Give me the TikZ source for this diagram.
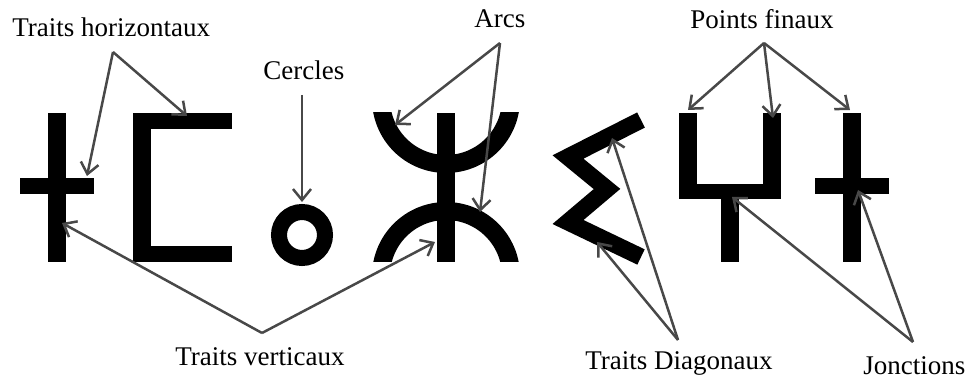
\documentclass[tikz,border=0pt]{standalone}
\usepackage{fontspec}
\setmainfont{Liberation Serif}
\usetikzlibrary{arrows.meta}
\definecolor{grisFleche}{RGB}{72,72,72}

\newcommand{\coordEtiquettes}{
\node[etiquette] (horiz) at (12,37) {Traits horizontaux};
\node[etiquette] (cercles) at (263,80) {Cercles};
\node[etiquette] (arcs) at (474,28) {Arcs};
\node[etiquette] (finaux) at (690,29) {Points finaux};
\node[etiquette] (vert) at (175,365) {Traits verticaux};
\node[etiquette] (diag) at (585,370) {Traits Diagonaux};
\node[etiquette] (jonc) at (863,374) {Jonctions};
}
\newcommand{\coordFleches}{
\coordinate (H0) at (113,52);
\coordinate (H1) at (87,176);
\coordinate (H2) at (187,116);
\coordinate (C0) at (302,95);
\coordinate (C1) at (302,202);
\coordinate (A0) at (500,43);
\coordinate (A1) at (395,125);
\coordinate (A2) at (480,212);
\coordinate (P0) at (764,43);
\coordinate (P1) at (688,110);
\coordinate (P2) at (773,118);
\coordinate (P3) at (850,110);
\coordinate (V0) at (262,333);
\coordinate (V1) at (62,223);
\coordinate (V2) at (435,242);
\coordinate (D0) at (678,340);
\coordinate (D1) at (612,138);
\coordinate (D2) at (597,242);
\coordinate (J0) at (913,342);
\coordinate (J1) at (732,197);
\coordinate (J2) at (858,190);
}
\newcommand{\glyphes}{
% croix
\fill[trait] (48,113) rectangle (66,262);
\fill[trait] (20,178) rectangle (94,194);
% crochet
\fill[trait] (133,113) rectangle (151,262);
\fill[trait] (133,113) rectangle (232,129);
\fill[trait] (133,246) rectangle (232,262);
% cercle
\draw[black,line width=8pt] (302,235) circle[radius=23];
% arcs
\fill[trait] (437,113) rectangle (455,262);
\begin{scope}
\clip (360,113) rectangle (535,262);
\draw[arc] (446,99) circle[radius=65];
\draw[arc] (446,276) circle[radius=65];
\end{scope}
% zigzag
\draw[black,line width=8.5pt,line join=miter] (641,120)--(568,157)--(607,189)--(568,222)--(641,257);
% fourche
\fill[trait] (679,113) rectangle (697,199);
\fill[trait] (763,113) rectangle (781,199);
\fill[trait] (679,184) rectangle (781,199);
\fill[trait] (721,199) rectangle (739,262);
% croix droite
\fill[trait] (843,113) rectangle (861,262);
\fill[trait] (815,178) rectangle (889,194);
}
\tikzset{
trait/.style={black},
arc/.style={black,line width=9pt},
etiquette/.style={anchor=base west,inner sep=0pt,font=\fontsize{13.5}{16}\selectfont},
fleche/.style={grisFleche,line width=1.25pt,-{Straight Barb[length=5.5pt,width=9pt,line width=1.25pt]}}
}

\begin{document}
\begin{tikzpicture}[x=0.5pt,y=-0.5pt]
    \useasboundingbox (0,0) rectangle (972,378);
    \glyphes
    \coordEtiquettes
    \coordFleches

    \foreach \a/\b in {H0/H1,H0/H2,C0/C1,A0/A1,A0/A2,P0/P1,P0/P2,P0/P3,V0/V1,V0/V2,D0/D1,D0/D2,J0/J1,J0/J2}{
    \draw[fleche] (\a)--(\b);
    }
\end{tikzpicture}
\end{document}
